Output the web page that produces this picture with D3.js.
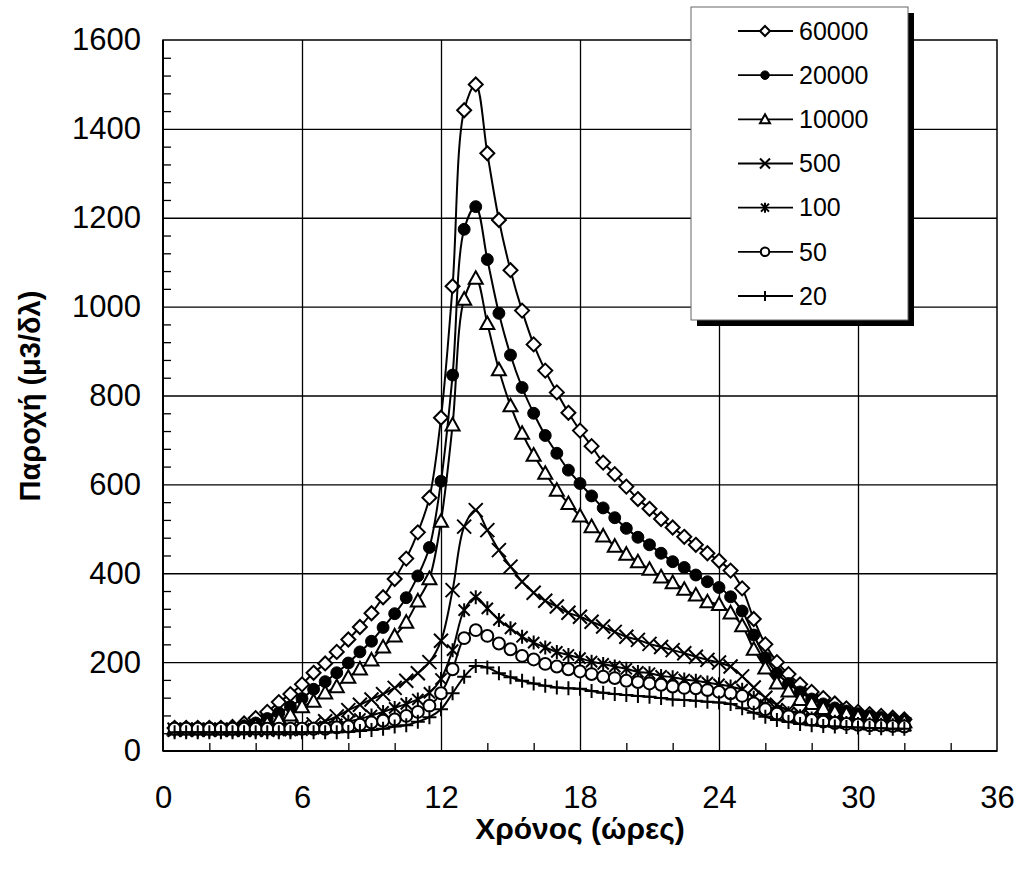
<!DOCTYPE html>
<html>
<head>
<meta charset="utf-8">
<script src="https://cdn.jsdelivr.net/npm/d3@7"></script>
<style>
  html, body { margin: 0; padding: 0; background: #fff; }
  svg { display: block; font-family: Arial, "Liberation Sans", sans-serif; }
</style>
</head>
<body>
<svg id="chart" width="1018" height="876"></svg>
<script>
// ---------------- DATA ----------------
const times = [0.5,1,1.5,2,2.5,3,3.5,4,4.5,5,
  5.5,6,6.5,7,7.5,8,8.5,9,9.5,10,
  10.5,11,11.5,12,12.5,13,13.5,14,14.5,15,
  15.5,16,16.5,17,17.5,18,18.5,19,19.5,20,
  20.5,21,21.5,22,22.5,23,23.5,24,24.5,25,
  25.5,26,26.5,27,27.5,28,28.5,29,29.5,30,
  30.5,31,31.5,32];

const s60000 = [52,52,52,52,52,54,62,74,88,110,
  128,150,176,197,223,251,279,310,346,387,
  433,492,570,750,1046,1442,1500,1345,1195,1082,
  991,915,856,807,761,721,686,649,623,595,
  567,545,522,503,482,464,445,428,406,366,
  297,240,200,173,150,133,119,107,96,88,
  83,79,75,71];
const s20000 = [52,52,52,52,52,52,56,63,73,86,
  100,118,139,156,176,198,223,247,278,309,
  345,394,458,607,846,1174,1225,1106,985,891,
  818,760,710,670,632,602,574,547,525,501,
  481,464,445,426,413,396,381,368,347,315,
  261,210,175,152,133,117,106,97,90,84,
  79,75,72,69];
const s10000 = [50,50,50,50,50,50,53,57,62,70,
  81,100,112,131,145,166,185,205,234,259,
  290,338,388,517,734,1017,1064,962,858,777,
  715,666,625,587,557,529,505,484,461,443,
  426,409,392,379,364,351,336,330,311,282,
  229,187,153,135,116,107,96,88,83,77,
  74,70,68,66];
const s500 = [48,48,48,48,48,48,48,48,48,50,
  52,55,60,67,78,92,104,116,128,142,
  158,175,200,248,362,505,542,497,452,415,
  381,356,338,325,311,302,291,280,268,257,
  250,241,234,227,220,212,205,199,190,168,
  143,120,104,92,84,78,74,70,67,65,
  63,62,61,60];
const s100 = [46,46,46,46,46,46,46,46,46,46,
  46,47,50,55,60,66,72,80,88,97,
  106,116,131,162,227,317,346,321,295,276,
  257,244,233,223,216,209,201,196,190,185,
  178,175,169,166,161,158,154,150,145,138,
  120,104,93,85,78,73,69,66,63,61,
  60,59,58,57];
const s50 = [50,50,50,50,50,50,50,50,50,50,
  50,50,50,50,53,55,59,64,68,71,
  79,88,102,130,184,254,272,259,242,229,
  214,206,196,190,184,179,173,167,164,158,
  155,152,149,145,142,141,137,133,130,124,
  107,94,84,78,74,70,66,63,61,59,
  58,57,56,55];
const s20 = [42,42,42,42,42,42,42,42,42,42,
  42,42,42,42,42,43,45,47,50,55,
  58,66,76,94,130,167,191,188,175,166,
  158,152,147,143,141,140,135,131,128,126,
  124,122,119,116,115,113,111,109,106,96,
  86,77,70,65,61,58,56,55,54,53,
  52,51,50,50];

const seriesNames = ["60000","20000","10000","500","100","50","20"];
const seriesValues = [s60000, s20000, s10000, s500, s100, s50, s20];
const markerTypes = ["diamond","dot","triangle","x","asterisk","circle","plus"];

const xTicks = [0,6,12,18,24,30,36];
const yTicks = [0,200,400,600,800,1000,1200,1400,1600];
const xMinor = [2,4,8,10,14,16,20,22,26,28,32,34];
const yMinor = [];
for (let v = 40; v < 1600; v += 40) if (v % 200 !== 0) yMinor.push(v);

const xTitle = "Χρόνος (ώρες)";
const yTitle = "Παροχή (μ3/δλ)";

// ---------------- LAYOUT ----------------
const svg = d3.select("#chart");
const L = 163, R = 997, T = 40, B = 751;
const x = d3.scaleLinear().domain([0, 36]).range([L, R]);
const y = d3.scaleLinear().domain([0, 1600]).range([B, T]);
const FONT = "Arial, 'Liberation Sans', sans-serif";

// gridlines
const grid = svg.append("g");
grid.append("g").attr("transform", `translate(0,${B})`)
  .call(d3.axisBottom(x).tickValues(xTicks.slice(1, -1)).tickSize(-(B - T)).tickFormat(""))
  .call(g => g.select(".domain").remove())
  .call(g => g.selectAll("line").attr("stroke", "#000").attr("stroke-width", 1.3));
grid.append("g").attr("transform", `translate(${L},0)`)
  .call(d3.axisLeft(y).tickValues(yTicks.slice(1, -1)).tickSize(-(R - L)).tickFormat(""))
  .call(g => g.select(".domain").remove())
  .call(g => g.selectAll("line").attr("stroke", "#000").attr("stroke-width", 1.3));

// plot border
svg.append("rect").attr("x", L).attr("y", T).attr("width", R - L).attr("height", B - T)
  .attr("fill", "none").attr("stroke", "#000").attr("stroke-width", 1.5);

// minor ticks (inside)
svg.append("g").attr("transform", `translate(0,${B})`)
  .call(d3.axisBottom(x).tickValues(xMinor).tickSize(-8).tickFormat(""))
  .call(g => g.select(".domain").remove())
  .call(g => g.selectAll("line").attr("stroke", "#000").attr("stroke-width", 1.3));
svg.append("g").attr("transform", `translate(${L},0)`)
  .call(d3.axisLeft(y).tickValues(yMinor).tickSize(-8).tickFormat(""))
  .call(g => g.select(".domain").remove())
  .call(g => g.selectAll("line").attr("stroke", "#000").attr("stroke-width", 1.3));

// axis lines (heavier)
svg.append("line").attr("x1", L).attr("x2", L).attr("y1", T).attr("y2", B)
  .attr("stroke", "#000").attr("stroke-width", 2);
svg.append("line").attr("x1", L).attr("x2", R).attr("y1", B).attr("y2", B)
  .attr("stroke", "#000").attr("stroke-width", 2);

// tick labels
const yl = svg.append("g").attr("transform", `translate(${L},0)`)
  .call(d3.axisLeft(y).tickValues(yTicks).tickSize(0).tickPadding(22).tickFormat(d3.format("d")));
yl.select(".domain").remove();
yl.selectAll("text").attr("font-size", 31).attr("font-family", FONT).attr("fill", "#000");

const xl = svg.append("g").attr("transform", `translate(0,${B})`)
  .call(d3.axisBottom(x).tickValues(xTicks).tickSize(0).tickPadding(35).tickFormat(d3.format("d")));
xl.select(".domain").remove();
xl.selectAll("text").attr("font-size", 31).attr("font-family", FONT).attr("fill", "#000");

// axis titles
svg.append("text").attr("x", 580).attr("y", 839).attr("text-anchor", "middle")
  .attr("font-family", FONT).attr("font-size", 30).attr("font-weight", "bold").text(xTitle);
svg.append("text").attr("transform", "translate(40,396) rotate(-90)").attr("text-anchor", "middle")
  .attr("font-family", FONT).attr("font-size", 29).attr("font-weight", "bold").text(yTitle);

// ---------------- MARKERS ----------------
function markerPath(type, s) {
  const h = s / 2;
  switch (type) {
    case "diamond": return `M0,${-h}L${h},0L0,${h}L${-h},0Z`;
    case "triangle": return `M0,${-h}L${h},${h*0.8}L${-h},${h*0.8}Z`;
    case "x": return `M${-h},${-h}L${h},${h}M${-h},${h}L${h},${-h}`;
    case "asterisk": return `M${-h*0.8},${-h*0.8}L${h*0.8},${h*0.8}M${-h*0.8},${h*0.8}L${h*0.8},${-h*0.8}M0,${-h}L0,${h}`;
    case "plus": return `M${-h},0L${h},0M0,${-h}L0,${h}`;
    case "dot":
    case "circle": {
      const r = h * 0.85;
      return `M${r},0A${r},${r} 0 1,1 ${-r},0A${r},${r} 0 1,1 ${r},0Z`;
    }
  }
}
function markerStyle(sel, type) {
  if (type === "dot") sel.attr("fill", "#000").attr("stroke", "#000").attr("stroke-width", 1);
  else if (type === "diamond" || type === "triangle" || type === "circle")
    sel.attr("fill", "#fff").attr("stroke", "#000").attr("stroke-width", 2);
  else sel.attr("fill", "none").attr("stroke", "#000").attr("stroke-width", 2);
}

const line = d3.line().x(d => x(d[0])).y(d => y(d[1])).curve(d3.curveCatmullRom.alpha(0.5));
const plot = svg.append("g");
seriesValues.forEach((vals, i) => {
  const pts = times.map((t, j) => [t, vals[j]]);
  const g = plot.append("g");
  g.append("path").datum(pts).attr("d", line).attr("fill", "none")
    .attr("stroke", "#000").attr("stroke-width", 2);
  g.selectAll("path.m").data(pts).join("path").attr("class", "m")
    .attr("transform", d => `translate(${x(d[0])},${y(d[1])})`)
    .attr("d", markerPath(markerTypes[i], 14))
    .call(markerStyle, markerTypes[i]);
});

// ---------------- LEGEND ----------------
const lg = svg.append("g");
const lx = 691, ly = 7, lw = 217, lh = 313;
lg.append("rect").attr("x", lx + 6).attr("y", ly + 6).attr("width", lw).attr("height", lh).attr("fill", "#000");
lg.append("rect").attr("x", lx).attr("y", ly).attr("width", lw).attr("height", lh)
  .attr("fill", "#fff").attr("stroke", "#666").attr("stroke-width", 1);
const legendY = d3.scalePoint().domain(seriesNames).range([31, 296]);
seriesNames.forEach((name, i) => {
  const cy = legendY(name);
  lg.append("line").attr("x1", 738).attr("x2", 793).attr("y1", cy).attr("y2", cy)
    .attr("stroke", "#000").attr("stroke-width", 1.8);
  lg.append("path").attr("transform", `translate(765,${cy})`)
    .attr("d", markerPath(markerTypes[i], 10)).call(markerStyle, markerTypes[i]);
  lg.append("text").attr("x", 799).attr("y", cy).attr("dy", "0.35em")
    .attr("font-family", FONT).attr("font-size", 25).attr("fill", "#000").text(name);
});
</script>
</body>
</html>
